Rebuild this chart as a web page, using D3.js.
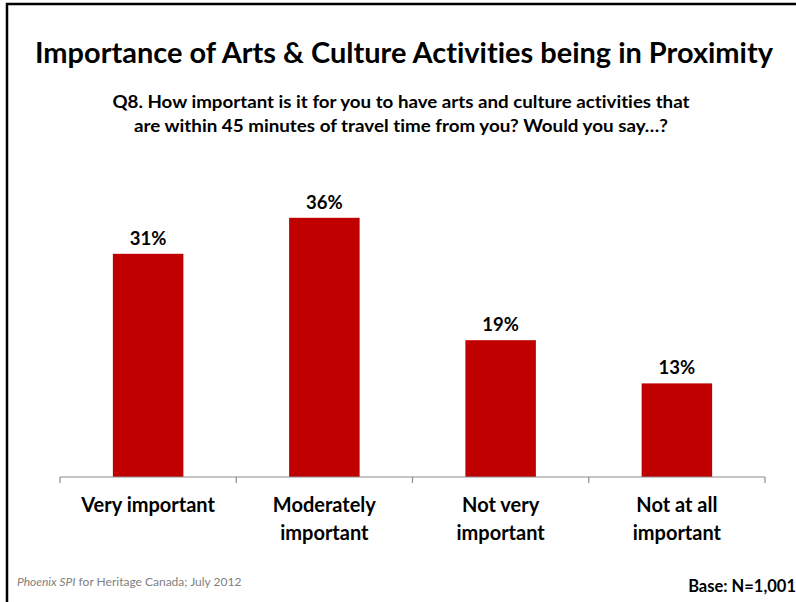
<!DOCTYPE html>
<html lang="en">
<head>
    <meta charset="UTF-8">
    <title>Importance of Arts & Culture Activities being in Proximity</title>
    <style>
        body {
            margin: 0;
            padding: 0;
            background: #fff;
        }
        svg text {
            font-family: Lato, "Open Sans", Arial, sans-serif;
            font-variant-ligatures: none;
            font-feature-settings: "liga" 0;
        }
    </style>
</head>
<body>
<svg id="chart"></svg>

<script src="https://d3js.org/d3.v7.min.js"></script>
<script>
    var categories = [["Very important"], ["Moderately", "important"], ["Not very", "important"], ["Not at all", "important"]];
    var values = [31, 36, 19, 13];
    var valueLabels = ["31%", "36%", "19%", "13%"];

    var W = 796, H = 602;
    var svg = d3.select("#chart").attr("width", W).attr("height", H);

    // frame
    svg.append("path")
        .attr("d", "M7,602 V4 H796")
        .attr("fill", "none")
        .attr("stroke", "#000")
        .attr("stroke-width", 2.5);

    // title
    svg.append("text")
        .attr("x", 404).attr("y", 63)
        .attr("text-anchor", "middle")
        .attr("font-size", 28).attr("font-weight", "bold")
        .attr("textLength", 738).attr("lengthAdjust", "spacingAndGlyphs")
        .text("Importance of Arts & Culture Activities being in Proximity");

    var sub = ["Q8. How important is it for you to have arts and culture activities that",
        "are within 45 minutes of travel time from you? Would you say\u2026?"];
    var subLen = [577, 534];
    sub.forEach(function (s, i) {
        svg.append("text")
            .attr("x", 401).attr("y", 108 + i * 24)
            .attr("text-anchor", "middle")
            .attr("font-size", 16.5).attr("font-weight", "bold")
            .attr("textLength", subLen[i]).attr("lengthAdjust", "spacingAndGlyphs")
            .text(s);
    });

    var margin = {left: 60, right: 31, top: 189, bottom: 125};
    var width = W - margin.left - margin.right;
    var height = H - margin.top - margin.bottom;

    var g = svg.append("g")
        .attr("transform", "translate(" + margin.left + "," + margin.top + ")");

    var x = d3.scaleBand()
        .domain(d3.range(values.length))
        .range([0, width])
        .paddingInner(0.6)
        .paddingOuter(0.3);

    var y = d3.scaleLinear()
        .domain([0, 40])
        .range([height, 0]);

    g.selectAll("rect.bar")
        .data(values)
        .enter().append("rect")
        .attr("class", "bar")
        .attr("x", function (d, i) { return x(i); })
        .attr("y", function (d) { return y(d); })
        .attr("width", x.bandwidth())
        .attr("height", function (d) { return height - y(d); })
        .attr("fill", "#c00000");

    g.selectAll("text.val")
        .data(values)
        .enter().append("text")
        .attr("class", "val")
        .attr("x", function (d, i) { return x(i) + x.bandwidth() / 2; })
        .attr("y", function (d) { return y(d) - 9; })
        .attr("text-anchor", "middle")
        .attr("font-size", 18.5).attr("font-weight", "bold")
        .attr("fill", "#000")
        .text(function (d, i) { return valueLabels[i]; });

    // axis line with ticks at category boundaries
    var step = width / values.length;
    var axis = g.append("g").attr("transform", "translate(0," + height + ")");
    axis.append("line")
        .attr("x1", 0).attr("x2", width)
        .attr("stroke", "#8c8c8c").attr("stroke-width", 1.2);
    axis.selectAll("line.tick")
        .data(d3.range(values.length + 1))
        .enter().append("line")
        .attr("class", "tick")
        .attr("x1", function (i) { return i * step; })
        .attr("x2", function (i) { return i * step; })
        .attr("y1", 0).attr("y2", 6)
        .attr("stroke", "#8c8c8c").attr("stroke-width", 1.2);

    categories.forEach(function (lines, i) {
        var t = axis.append("text")
            .attr("x", x(i) + x.bandwidth() / 2)
            .attr("y", 35)
            .attr("text-anchor", "middle")
            .attr("font-size", 20).attr("font-weight", "bold")
            .attr("fill", "#000");
        lines.forEach(function (l, j) {
            t.append("tspan")
                .attr("x", x(i) + x.bandwidth() / 2)
                .attr("dy", j === 0 ? 0 : 28)
                .text(l);
        });
    });

    // footer
    var foot = svg.append("text")
        .attr("x", 17).attr("y", 586)
        .attr("font-size", 12).attr("fill", "#808080");
    foot.append("tspan").attr("font-style", "italic").text("Phoenix SPI");
    foot.append("tspan").text(" for Heritage Canada; July 2012");

    svg.append("text")
        .attr("x", 796).attr("y", 592)
        .attr("text-anchor", "end")
        .attr("font-size", 16.5).attr("font-weight", "bold")
        .text("Base: N=1,001");
</script>
</body>
</html>
